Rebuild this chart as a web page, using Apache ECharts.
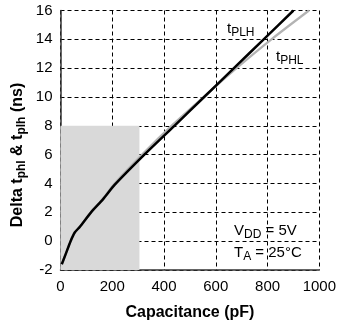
<!DOCTYPE html>
<html>
<head>
<meta charset="utf-8">
<script src="https://cdn.jsdelivr.net/npm/echarts@6/dist/echarts.min.js"></script>
<style>
  html, body { margin: 0; padding: 0; background: #fff; }
  #chart { width: 339px; height: 326px; }
</style>
</head>
<body>
<div id="chart"></div>
<script>
// Load capacitance (pF) vs. propagation-delay change (ns)
const capPLH = [5, 20, 39, 55, 75, 118, 164, 209, 324, 440, 555, 670, 785, 900];
const tPLH   = [-1.6, -0.9, 0, 0.6, 1.0, 2, 2.9, 3.9, 6, 8, 10, 12, 14, 16];

const capPHL = [5, 20, 39, 55, 75, 118, 164, 209, 320, 435, 553, 680, 815, 960];
const tPHL   = [-1.6, -0.9, 0, 0.6, 1.0, 2, 2.95, 4.0, 6.1, 8.1, 10, 12, 14, 16];

// Highlighted low-capacitance region
const shadeCap = [0, 305];
const shadeT = [-2, 8];

const xTicks = { min: 0, max: 1000, interval: 200 };
const yTicks = { min: -2, max: 16, interval: 2 };

const pairs = (xs, ys) => xs.map((x, i) => [x, ys[i]]);

const font = 'Arial, "Liberation Sans", sans-serif';
const gridLine = { show: true, lineStyle: { color: '#000', type: [4, 3], width: 1 } };

const chart = echarts.init(document.getElementById('chart'), null, { renderer: 'canvas' });

chart.setOption({
  animation: false,
  backgroundColor: '#fff',
  grid: { left: 60.5, right: 17.5, top: 10.5, bottom: 56 },
  xAxis: {
    type: 'value',
    min: xTicks.min, max: xTicks.max, interval: xTicks.interval,
    name: 'Capacitance (pF)',
    nameLocation: 'middle',
    nameGap: 35,
    nameTextStyle: { fontFamily: font, fontWeight: 'bold', fontSize: 16, color: '#000' },
    axisLine: { show: true, onZero: false, lineStyle: { color: '#333', width: 1.5 } },
    axisTick: { show: false },
    axisLabel: { fontFamily: font, fontSize: 15, color: '#000', margin: 9, formatter: v => String(v) },
    splitLine: gridLine
  },
  yAxis: {
    type: 'value',
    min: yTicks.min, max: yTicks.max, interval: yTicks.interval,
    axisLine: { show: true, onZero: false, lineStyle: { color: '#333', width: 1.5 } },
    axisTick: { show: false },
    axisLabel: { fontFamily: font, fontSize: 15, color: '#000', margin: 8 },
    splitLine: gridLine
  },
  series: [
    {
      name: 'tPHL',
      type: 'line',
      data: pairs(capPHL, tPHL),
      smooth: 0.25,
      symbol: 'none',
      lineStyle: { color: '#b3b3b3', width: 2.2 },
      markArea: {
        silent: true,
        itemStyle: { color: '#d9d9d9' },
        data: [[{ coord: [shadeCap[0], shadeT[0]] }, { coord: [shadeCap[1], shadeT[1]] }]]
      },
      z: 2
    },
    {
      name: 'tPLH',
      type: 'line',
      data: pairs(capPLH, tPLH),
      smooth: 0.25,
      symbol: 'none',
      lineStyle: { color: '#000', width: 2.5 },
      z: 3
    }
  ],
  graphic: [
    {
      type: 'text', x: 18, y: 155, rotation: Math.PI / 2,
      style: {
        text: '{m|Delta t}{s|phl}{m| & t}{s|plh}{m| (ns)}',
        align: 'center', verticalAlign: 'middle',
        rich: {
          m: { fontFamily: font, fontWeight: 'bold', fontSize: 16, fill: '#000' },
          s: { fontFamily: font, fontWeight: 'bold', fontSize: 12, fill: '#000', padding: [8, 0, 0, 0] }
        }
      }
    },
    {
      type: 'text', x: 227, y: 29,
      style: {
        text: '{m|t}{s|PLH}', align: 'left', verticalAlign: 'middle',
        rich: {
          m: { fontFamily: font, fontSize: 15, fill: '#000' },
          s: { fontFamily: font, fontSize: 12, fill: '#000', padding: [8, 0, 0, 0] }
        }
      }
    },
    {
      type: 'text', x: 276, y: 57,
      style: {
        text: '{m|t}{s|PHL}', align: 'left', verticalAlign: 'middle',
        rich: {
          m: { fontFamily: font, fontSize: 15, fill: '#000' },
          s: { fontFamily: font, fontSize: 12, fill: '#000', padding: [8, 0, 0, 0] }
        }
      }
    },
    {
      type: 'text', x: 234, y: 231,
      style: {
        text: '{m|V}{s|DD}{m| = 5V}', align: 'left', verticalAlign: 'middle',
        rich: {
          m: { fontFamily: font, fontSize: 15, fill: '#000' },
          s: { fontFamily: font, fontSize: 12, fill: '#000', padding: [8, 0, 0, 0] }
        }
      }
    },
    {
      type: 'text', x: 234, y: 253,
      style: {
        text: '{m|T}{s|A}{m| = 25°C}', align: 'left', verticalAlign: 'middle',
        rich: {
          m: { fontFamily: font, fontSize: 15, fill: '#000' },
          s: { fontFamily: font, fontSize: 12, fill: '#000', padding: [8, 0, 0, 0] }
        }
      }
    }
  ]
});
</script>
</body>
</html>
